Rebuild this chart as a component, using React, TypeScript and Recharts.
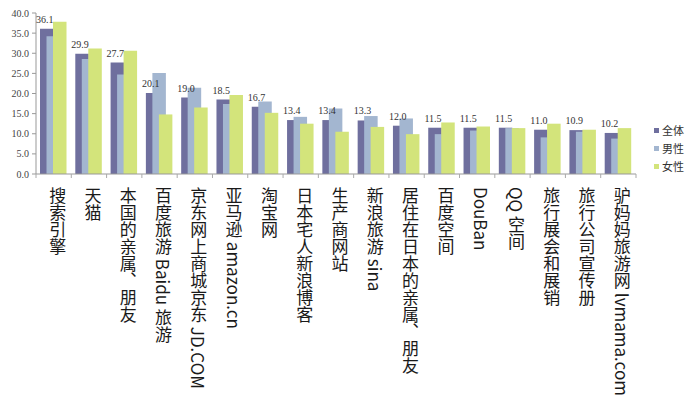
import { BarChart, Bar, XAxis, YAxis, LabelList } from "recharts";

const categories = [
  "搜索引擎",
  "天猫",
  "本国的亲属、朋友",
  "百度旅游 Baidu 旅游",
  "京东网上商城京东 JD.COM",
  "亚马逊 amazon.cn",
  "淘宝网",
  "日本宅人新浪博客",
  "生产商网站",
  "新浪旅游 sina",
  "居住在日本的亲属、朋友",
  "百度空间",
  "DouBan",
  "QQ 空间",
  "旅行展会和展销",
  "旅行公司宣传册",
  "驴妈妈旅游网 lvmama.com",
];

const allValues = [36.1, 29.9, 27.7, 20.1, 19.0, 18.5, 16.7, 13.4, 13.4, 13.3, 12.0, 11.5, 11.5, 11.5, 11.0, 10.9, 10.2];
const maleValues = [34.2, 28.6, 24.7, 25.1, 21.4, 17.4, 18.0, 14.2, 16.3, 14.4, 13.8, 9.9, 10.8, 11.4, 9.1, 10.5, 8.8];
const femaleValues = [37.8, 31.2, 30.6, 14.8, 16.5, 19.6, 15.2, 12.5, 10.5, 11.7, 9.9, 12.8, 11.8, 11.4, 12.5, 11.0, 11.4];

const yTicks = [0, 5, 10, 15, 20, 25, 30, 35, 40];

const seriesNames = ["全体", "男性", "女性"];
const COLORS = ["#6f6f9e", "#a3b6d0", "#d3e47b"];

const data = categories.map((name, i) => ({
  name,
  all: allValues[i],
  male: maleValues[i],
  female: femaleValues[i],
}));

const PLOT_LEFT = 36;
const PLOT_RIGHT = 636;
const BAND = (PLOT_RIGHT - PLOT_LEFT) / categories.length;

// vertical category label + boundary tick marks like the Excel original
const CategoryTick = (props: any) => {
  const { x, y, payload, index } = props;
  const half = BAND / 2;
  return (
    <g>
      <line x1={x - half} x2={x - half} y1={y} y2={y + 4} stroke="#aaa" />
      {index === categories.length - 1 && (
        <line x1={x + half} x2={x + half} y1={y} y2={y + 4} stroke="#aaa" />
      )}
      <text
        x={x + 4}
        y={y + 13}
        fill="#1a1a1a"
        fontSize={17}
        fontFamily="'Noto Sans CJK SC', sans-serif"
        style={{ writingMode: "vertical-rl" }}
      >
        {payload.value}
      </text>
    </g>
  );
};

const LegendBox = () => (
  <div style={{ position: "absolute", left: 654, top: 121 }}>
    {seriesNames.map((s, i) => (
      <div
        key={s}
        style={{
          display: "flex",
          alignItems: "center",
          height: 18,
          fontSize: 11,
          fontFamily: "'Noto Sans CJK SC', serif",
          color: "#333",
        }}
      >
        <span
          style={{
            width: 5,
            height: 5,
            background: COLORS[i],
            marginRight: 3,
            display: "inline-block",
          }}
        />
        {s}
      </div>
    ))}
  </div>
);

export default function App() {
  return (
    <div style={{ position: "absolute", left: 0, top: 0, width: 689, height: 397, background: "#fff" }}>
      <BarChart
        width={689}
        height={397}
        data={data}
        barSize={13.5}
        barGap={-7}
        margin={{ top: 13, right: 689 - PLOT_RIGHT, left: 0, bottom: 0 }}
      >
        <XAxis
          dataKey="name"
          interval={0}
          height={223}
          tickLine={false}
          tickSize={0}
          tickMargin={0}
          axisLine={{ stroke: "#999" }}
          tick={<CategoryTick />}
        />
        <YAxis
          width={PLOT_LEFT}
          domain={[0, 40]}
          ticks={yTicks}
          interval={0}
          tickSize={4}
          tickMargin={3}
          axisLine={{ stroke: "#999" }}
          tickLine={{ stroke: "#999" }}
          tickFormatter={(v: number) => v.toFixed(1)}
          tick={{ fill: "#444", fontSize: 10, fontFamily: "'Liberation Serif', serif" }}
        />
        <Bar dataKey="all" name={seriesNames[0]} fill={COLORS[0]} isAnimationActive={false}>
          <LabelList
            dataKey="all"
            position="top"
            offset={6}
            dx={-2}
            formatter={(v: any) => Number(v).toFixed(1)}
            style={{ fill: "#333", fontSize: 10, fontFamily: "'Liberation Serif', serif" }}
          />
        </Bar>
        <Bar dataKey="male" name={seriesNames[1]} fill={COLORS[1]} isAnimationActive={false} />
        <Bar dataKey="female" name={seriesNames[2]} fill={COLORS[2]} isAnimationActive={false} />
      </BarChart>
      <LegendBox />
    </div>
  );
}
